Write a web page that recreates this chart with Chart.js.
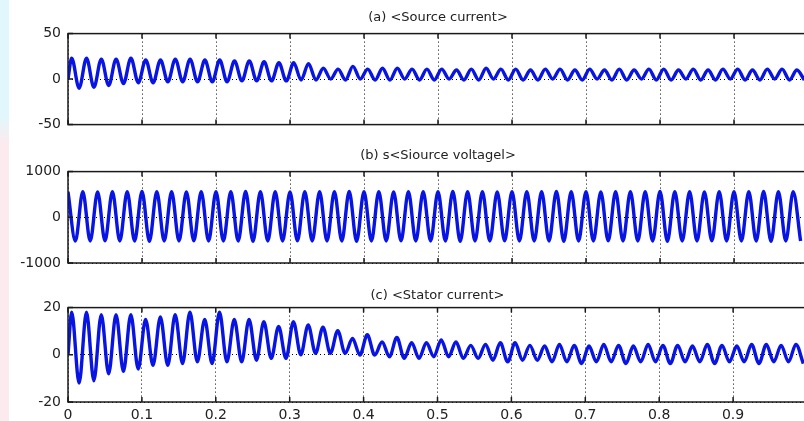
<!DOCTYPE html>
<html>
<head>
<meta charset="utf-8">
<script src="https://cdn.jsdelivr.net/npm/chart.js@4.4.1/dist/chart.umd.min.js"></script>
<style>
  html, body { margin: 0; padding: 0; background: #fff; overflow: hidden; width: 804px; height: 421px; }
  .strip { position: absolute; left: 0; top: 0; width: 9px; height: 421px;
           background: linear-gradient(to bottom, #e2f7fb 0%, #e2f7fb 28%, #fbeaee 34%, #fbeaee 100%); }
  canvas { position: absolute; left: 0; }
</style>
</head>
<body>
<div class="strip"></div>
<canvas id="chartA" width="812" height="140" style="top:0px"></canvas>
<canvas id="chartB" width="812" height="140" style="top:140px"></canvas>
<canvas id="chartC" width="812" height="150" style="top:280px"></canvas>
<script>
// peaks / troughs of each cycle (50 Hz, 0..1 s)
var sourceCurrentPeaks = [23, 23, 22, 22, 23, 21, 21, 22, 22, 21, 21, 20, 20, 19, 18, 18, 17, 12, 11, 14,
                          11, 12, 12, 11, 11, 11, 10, 11, 12, 11, 11, 10, 11, 11, 10, 11, 10, 11, 10, 11,
                          11, 10, 11, 10, 11, 11, 10, 11, 11, 10];
var sourceCurrentTroughs = [-10, -9, -7, -5, -4, -4, -3, -3, -3, -3, -3, -2, -2, -2, -2, -1, -1, 0, -1, 0,
                            -1, -1, 0, -1, -1, 0, -1, -1, 0, -1, -1, -1, 0, -1, -1, 0, -1, -1, 0, -1,
                            -1, 0, -1, -1, 0, -1, -1, 0, -1, -1];

var sourceVoltagePeaks = [560, 560, 555, 560, 560, 565, 560, 560, 555, 560, 560, 560, 565, 560, 560, 555, 560, 560, 560, 565,
                          560, 560, 555, 560, 560, 560, 565, 560, 560, 555, 560, 560, 560, 565, 560, 560, 555, 560, 560, 560,
                          565, 560, 560, 555, 560, 560, 560, 565, 560, 560];
var sourceVoltageTroughs = [-520, -520, -515, -520, -520, -525, -520, -520, -515, -520, -520, -520, -525, -520, -520, -515, -520, -520, -520, -525,
                            -520, -520, -515, -520, -520, -520, -525, -520, -520, -515, -520, -520, -520, -525, -520, -520, -515, -520, -520, -520,
                            -525, -520, -520, -515, -520, -520, -520, -525, -520, -520];

var statorCurrentPeaks = [18, 18, 17, 17, 17, 15, 16, 17, 18, 15, 18, 15, 15, 14, 12, 14, 12.7,
                          11.7, 10.2, 6.9, 8.5, 5.4, 7.3, 5.1, 5.1, 6.3, 5.4, 4, 4.4, 5.1, 5.1, 4, 3.7,
                          4.4, 4, 3.7, 4.4, 4, 3.7, 4.4, 4, 4, 3.7, 4.4, 4, 3.7, 4.4, 4.4, 4, 4.4];
var statorCurrentTroughs = [-12, -11, -8, -7, -6, -4.5, -4.5, -3.7, -3, -3.7, -3, -3, -2.3, -1.5, -1.5, 0,
                            0.6, 0.6, 0.6, -0.1, -0.1, -0.8, -1.5, -1.5, -0.8, -0.8, -1.5, -1.5, -2.3, -3, -2.3, -2.3,
                            -3, -3, -3.7, -3, -3, -3.7, -3, -3, -3.7, -3, -3, -3.7, -3, -3, -3.7, -3, -3, -3.7];

var panelTitles = ['(a) <Source current>', '(b) s<Siource voltagel>', '(c) <Stator current>'];
var yLimits = [50, 1000, 20];

function wave(start, firstPeak, peaks, troughs) {
  var pts = [];
  if (start !== null) pts.push({ x: 0, y: start });
  for (var i = 0; i < peaks.length; i++) {
    pts.push({ x: firstPeak + 0.02 * i, y: peaks[i] });
    if (i < troughs.length) pts.push({ x: firstPeak + 0.01 + 0.02 * i, y: troughs[i] });
  }
  return pts;
}

var framePlugin = {
  id: 'frame',
  afterDraw: function (chart) {
    var a = chart.chartArea, ctx = chart.ctx, xs = chart.scales.x, ys = chart.scales.y;
    ctx.save();
    ctx.strokeStyle = '#1a1a1a';
    ctx.lineWidth = 1.5;
    ctx.beginPath();
    xs.ticks.forEach(function (t) {
      var px = xs.getPixelForValue(t.value);
      ctx.moveTo(px, a.top); ctx.lineTo(px, a.top + 5);
      ctx.moveTo(px, a.bottom); ctx.lineTo(px, a.bottom - 5);
    });
    ys.ticks.forEach(function (t) {
      var py = ys.getPixelForValue(t.value);
      ctx.moveTo(a.left, py); ctx.lineTo(a.left + 5, py);
    });
    ctx.stroke();
    ctx.strokeRect(a.left, a.top, a.right - a.left, a.bottom - a.top);
    ctx.restore();
  }
};

function panel(id, idx, points, showX, pad) {
  var lim = yLimits[idx];
  return new Chart(document.getElementById(id), {
    type: 'line',
    data: {
      datasets: [{
        data: points,
        borderColor: 'rgb(8,20,225)',
        borderWidth: 3.4,
        pointRadius: 0,
        cubicInterpolationMode: 'monotone',
        fill: false
      }]
    },
    options: {
      responsive: false,
      animation: false,
      layout: { padding: { left: 0, right: 4, top: 0, bottom: pad.bottom } },
      plugins: {
        legend: { display: false },
        tooltip: { enabled: false },
        title: {
          display: true,
          text: panelTitles[idx],
          fullSize: false,
          color: '#222',
          font: { family: 'DejaVu Sans', size: 13, weight: 'normal' },
          padding: { top: pad.titleTop, bottom: pad.titleBottom }
        }
      },
      scales: {
        x: {
          type: 'linear',
          min: 0, max: 1,
          afterFit: function (s) { s.height = showX ? 26 : 0; },
          grid: { color: '#000', lineWidth: 1, drawTicks: false },
          border: { display: false, dash: [1, 3] },
          ticks: {
            display: showX,
            stepSize: 0.1,
            padding: 5,
            color: '#222',
            font: { family: 'DejaVu Sans', size: 14 },
            callback: function (v) { return v > 0.999 ? '' : String(Math.round(v * 10) / 10); }
          }
        },
        y: {
          min: -lim, max: lim,
          afterFit: function (s) { s.width = 68; },
          grid: { color: '#000', lineWidth: 1, drawTicks: false },
          border: { display: false, dash: [1, 3] },
          ticks: {
            stepSize: lim,
            padding: 7,
            color: '#222',
            font: { family: 'DejaVu Sans', size: 14 },
            callback: function (v) { return String(v); }
          }
        }
      }
    },
    plugins: [framePlugin]
  });
}

panel('chartA', 0, wave(0, 0.005, sourceCurrentPeaks, sourceCurrentTroughs), false,
      { titleTop: 10, titleBottom: 8, bottom: 12 });
panel('chartB', 1, wave(null, 0, sourceVoltagePeaks, sourceVoltageTroughs), false,
      { titleTop: 8, titleBottom: 8, bottom: 17 });
panel('chartC', 2, wave(0, 0.005, statorCurrentPeaks, statorCurrentTroughs), true,
      { titleTop: 8, titleBottom: 4, bottom: 2 });
</script>
</body>
</html>
